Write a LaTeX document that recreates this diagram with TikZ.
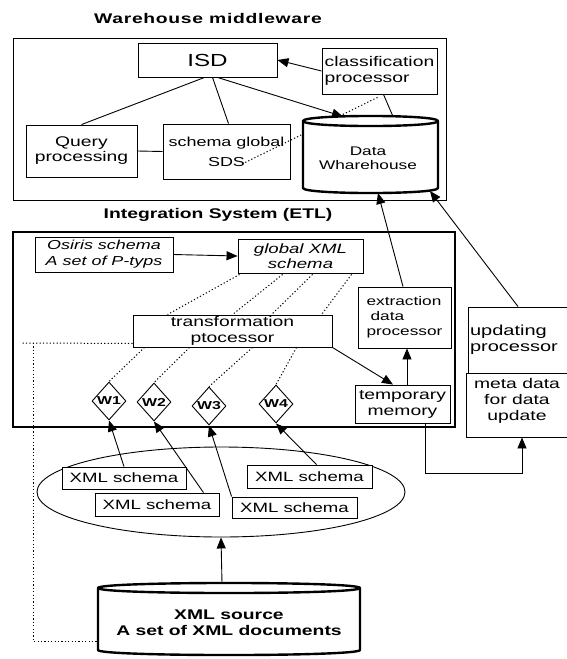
\documentclass[tikz,border=0pt]{standalone}
\usepackage{fontspec}
\setmainfont{Liberation Sans}[FakeStretch=1.38]
\usetikzlibrary{shapes.geometric,arrows.meta,calc}
\begin{document}
\begin{tikzpicture}[x=1pt,y=-1pt,
  box/.style={draw,line width=0.9pt,fill=white,inner sep=1pt,align=center},
  cont/.style={draw,line width=1pt},
  arr/.style={line width=0.9pt,-{Triangle[length=11pt,width=9pt]}},
  ln/.style={line width=0.9pt},
  dots/.style={line width=1pt,dash pattern=on 1.2pt off 2.2pt},
  ttl/.style={font=\bfseries\fontsize{14}{16}\selectfont},
  cyl/.style={line width=2.4pt,fill=white,line join=round},
  wd/.style={draw,diamond,line width=0.9pt,fill=white,inner sep=0pt,minimum width=34pt,minimum height=38pt,font=\bfseries\fontsize{11.5}{12}\selectfont},
]
\useasboundingbox (0,0) rectangle (566,659);

% ---------- Warehouse middleware ----------
\node[ttl,font=\bfseries\fontsize{14}{16}\selectfont\addfontfeature{LetterSpace=5}] (t1) at (208,18) {Warehouse middleware};
\node[cont,minimum width=433pt,minimum height=162pt] (wm) at (229.5,119) {};
\node[box,minimum width=139pt,minimum height=34pt,font=\fontsize{17.5}{20}\selectfont] (isd) at (207.5,60) {ISD};
\node[box,minimum width=115pt,minimum height=46pt,align=left,font=\fontsize{14}{16}\selectfont] (cls) at (379.5,71) {classification\\processor};
\node[box,minimum width=111pt,minimum height=52pt,font=\fontsize{14}{15}\selectfont] (qp) at (81.5,151) {Query\\processing};
\node[box,fill=none,minimum width=127pt,minimum height=55pt,font=\fontsize{13}{20}\selectfont] (sg) at (226.5,151.5) {schema global\\SDS};
\coordinate (sdsend) at (240,165);
\draw[dots] ([xshift=-2pt,yshift=-3pt]cls.south) -- (sdsend);

% Data warehouse cylinder
\draw[cyl] (303,121) -- (303,188) .. controls (303,194.7) and (438,194.7) .. (438,188)
  -- (438,121) .. controls (438,114.3) and (303,114.3) .. (303,121) -- cycle;
\draw[line width=2.4pt] (303,121) .. controls (303,127.7) and (438,127.7) .. (438,121);
\node[align=center,inner sep=0pt,font=\fontsize{12.5}{14}\selectfont] (dw) at (368,158) {Data\\Wharehouse};
\coordinate (dwin1) at (343,116.5);
\coordinate (dwin2) at (393,116.5);
\coordinate (dwout1) at (378,193);
\coordinate (dwout2) at (430,191);

\draw[arr] (cls.west) -- (isd.east);
\draw[ln] ([xshift=-3pt]isd.south) -- (qp.north);
\draw[ln] ([xshift=5pt]isd.south) -- ([xshift=2pt]sg.north);
\draw[arr] ([xshift=10pt]isd.south) -- (dwin1);
\draw[ln] (qp.east) -- (sg.west);
\draw[ln] ([xshift=4pt]cls.south) -- (dwin2);

% ---------- Integration System ----------
\node[ttl] (t2) at (218,215) {Integration System (ETL)};
\node[cont,line width=1.4pt,minimum width=442pt,minimum height=195pt] (is) at (234,329.5) {};
\node[box,minimum width=138pt,minimum height=35pt,font=\itshape\fontsize{13}{16}\selectfont] (os) at (104,254.5) {Osiris schema\\A set of P-typs};
\node[box,minimum width=125pt,minimum height=34pt,font=\itshape\fontsize{13.5}{15}\selectfont] (gx) at (300.5,256) {global XML\\schema};
\node[box,minimum width=199pt,minimum height=32pt,font=\fontsize{14}{16}\selectfont] (tp) at (232.5,331) {transformation\\ptocessor};
\node[box,minimum width=93pt,minimum height=61pt,align=left,font=\fontsize{12.5}{15}\selectfont] (ex) at (404.5,317.5) {extraction\\\hspace{4pt}data\\processor};
\node[box,minimum width=95pt,minimum height=38pt,font=\fontsize{14}{16}\selectfont] (tm) at (402.5,404) {temporary\\memory};
\node[box,minimum width=100pt,minimum height=66pt,text width=96pt,inner xsep=2pt,align=left,font=\fontsize{14.5}{16}\selectfont] (up) at (518,340) {updating\\processor};
\node[box,minimum width=102pt,minimum height=64pt,font=\fontsize{14}{16}\selectfont] (md) at (517,405) {meta data\\for data\\update\\[-4pt]\mbox{}};

\node[wd] (w1) at (109,401) {W1};
\node[wd] (w2) at (154,402) {W2};
\node[wd] (w3) at (209,406) {W3};
\node[wd] (w4) at (276,404) {W4};

\draw[arr] (os.east) -- (gx.west);
\draw[dots] ($(gx.south west)+(2,1)$) -- ($(tp.north west)+(35,0)$);
\draw[dots] ($(gx.south west)+(45,1)$) -- ($(tp.north west)+(100,0)$);
\draw[dots] ($(gx.south west)+(75,1)$) -- ($(tp.north west)+(139,0)$);
\draw[dots] ($(gx.south west)+(114,1)$) -- ($(tp.north west)+(189,0)$);
\draw[dots] ($(tp.south west)+(12,0)$) -- (w1.north);
\draw[dots] ($(tp.south west)+(57,0)$) -- (w2.north);
\draw[dots] ($(tp.south west)+(120,0)$) -- (w3.north);
\draw[dots] ($(tp.south west)+(164,0)$) -- (w4.north);

\draw[arr] (tp.south east) -- ($(tm.north)+(-9.5,0)$);
\draw[arr] ($(tm.north)+(4.5,0)$) -- ($(ex.south)+(2.5,0)$);
\draw[arr] ($(ex.north)+(-1.5,0)$) -- (dwout1);
\draw[arr] (up.north) -- (dwout2);
\draw[arr] ($(tm.south)+(22.5,0)$) -- ++(0,50) -| ($(md.south)+(5,0)$);

% ---------- Sources ----------
\node[draw,ellipse,line width=0.9pt,minimum width=368pt,minimum height=90pt] (el) at (221,492) {};
\node[box,minimum width=124pt,minimum height=22pt,font=\fontsize{13.5}{15}\selectfont] (x1) at (124,478) {XML schema};
\node[box,minimum width=124pt,minimum height=23pt,font=\fontsize{13.5}{15}\selectfont] (x2) at (157,504.5) {XML schema};
\node[box,minimum width=125pt,minimum height=23pt,font=\fontsize{13.5}{15}\selectfont] (x3) at (309.5,476.5) {XML schema};
\node[box,minimum width=125pt,minimum height=21pt,font=\fontsize{13.5}{15}\selectfont] (x4) at (294.5,507.5) {XML schema};

\draw[arr] (x1.north) -- (w1.south);
\draw[arr] ($(x2.north east)+(-16,0)$) -- (w2.south);
\draw[arr] (x4.north west) -- (w3.south);
\draw[arr] ($(x3.north)+(7,0)$) -- (w4.south);

% XML source cylinder
\draw[cyl] (98,588) -- (98,650) .. controls (98,656.7) and (360,656.7) .. (360,650)
  -- (360,588) .. controls (360,581.3) and (98,581.3) .. (98,588) -- cycle;
\draw[line width=2.4pt] (98,588) .. controls (98,594.7) and (360,594.7) .. (360,588);
\node[align=center,inner sep=0pt,font=\bfseries\fontsize{14}{16}\selectfont] (xs) at (229,623) {XML source\\A set of XML documents};
\coordinate (xstop) at (222,583);
\coordinate (xsl) at (98,641);
\coordinate (dl) at (22,343);
\coordinate (dtop) at (33,343);

\draw[arr] (xstop) -- (el.south);
\draw[dots] ($(tp.south west)+(0,-4)$) -- (dl);
\draw[dots] (dtop) |- (xsl);
\end{tikzpicture}
\end{document}
